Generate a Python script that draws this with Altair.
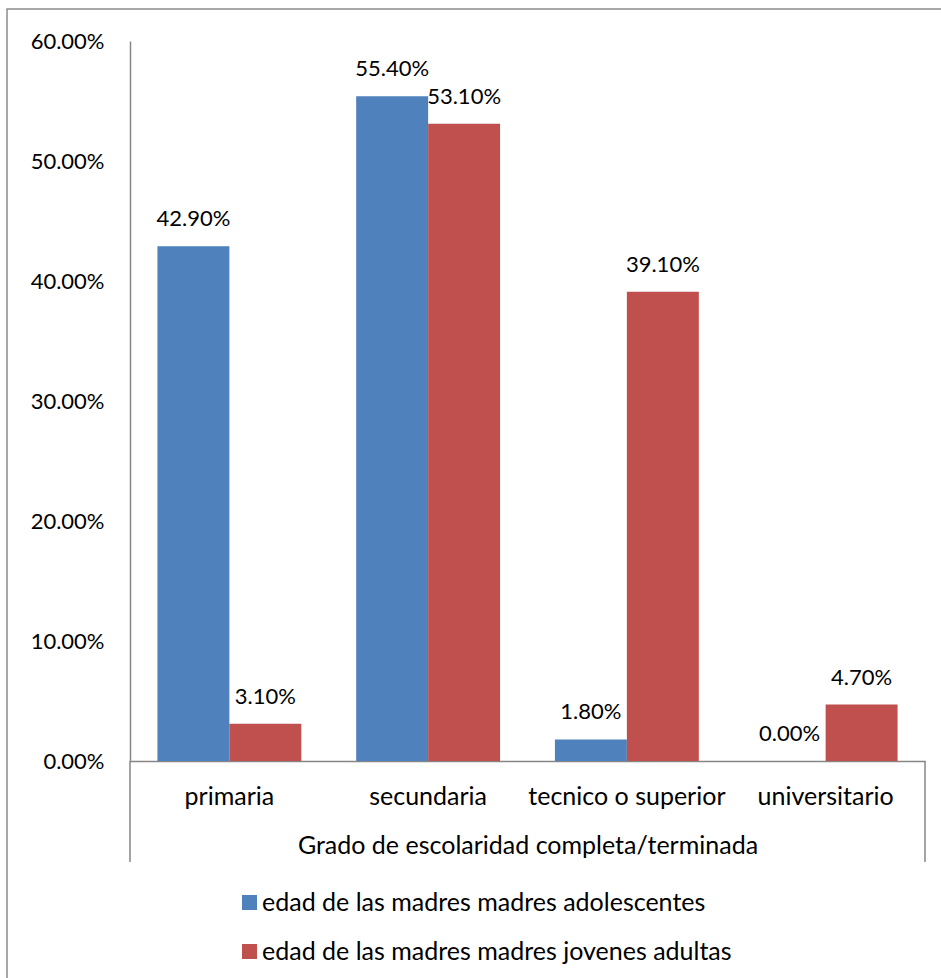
import altair as alt
import pandas as pd

categorias = ["primaria", "secundaria", "tecnico o superior", "universitario"]
series = ["edad de las madres madres adolescentes", "edad de las madres madres jovenes adultas"]
adolescentes = [0.429, 0.554, 0.018, 0.0]
jovenes = [0.031, 0.531, 0.391, 0.047]
colores = ["#4F81BD", "#C0504D"]
y_ticks = [0.0, 0.1, 0.2, 0.3, 0.4, 0.5, 0.6]

rows = []
for c, a, j in zip(categorias, adolescentes, jovenes):
    rows.append({"categoria": c, "serie": series[0], "valor": a})
    rows.append({"categoria": c, "serie": series[1], "valor": j})
df = pd.DataFrame(rows)

FONT = "Lato"
FS_NUM = 22
FS_TXT = 25
W, H = 795, 720
AXIS_GRAY = "#868686"

x_enc = alt.X(
    "categoria:N",
    sort=categorias,
    scale=alt.Scale(paddingInner=0.276, paddingOuter=0.138),
    axis=alt.Axis(
        title="Grado de escolaridad completa/terminada",
        labelAngle=0,
        ticks=False,
        domainColor=AXIS_GRAY,
        domainWidth=1.5,
        labelPadding=23,
        titlePadding=24,
        labelFontSize=FS_TXT,
        titleFontSize=FS_TXT,
        titleFontWeight="normal",
        labelColor="black",
        titleColor="black",
        labelFont=FONT,
        titleFont=FONT,
        labelLimit=0,
        labelOverlap=False,
    ),
)
xo_enc = alt.XOffset("serie:N", sort=series, scale=alt.Scale(paddingInner=0, paddingOuter=0))
y_enc = alt.Y(
    "valor:Q",
    scale=alt.Scale(domain=[0, 0.6], nice=False),
    axis=alt.Axis(
        values=y_ticks,
        format=".2%",
        ticks=False,
        grid=False,
        title=None,
        domainColor=AXIS_GRAY,
        domainWidth=1.5,
        labelPadding=26,
        labelFontSize=FS_NUM,
        labelFont=FONT,
        labelColor="black",
    ),
)

base = alt.Chart(df)

bars = base.mark_bar().encode(
    x=x_enc,
    xOffset=xo_enc,
    y=y_enc,
    color=alt.Color(
        "serie:N",
        sort=series,
        scale=alt.Scale(domain=series, range=colores),
        legend=alt.Legend(
            title=None,
            orient="none",
            legendX=107,
            legendY=849,
            direction="vertical",
            symbolType="square",
            symbolSize=225,
            symbolStrokeWidth=0,
            labelFontSize=FS_TXT,
            labelFont=FONT,
            labelColor="black",
            labelOffset=0,
            rowPadding=23,
            padding=0,
            labelLimit=0,
        ),
    ),
)

labels = base.mark_text(
    baseline="alphabetic", dy=-20, fontSize=FS_NUM, font=FONT, color="black"
).encode(
    x=alt.X("categoria:N", sort=categorias),
    xOffset=alt.XOffset("serie:N", sort=series),
    y=alt.Y("valor:Q"),
    text=alt.Text("valor:Q", format=".2%"),
)

deco = pd.DataFrame({"k": [0]})
border = alt.Chart(deco).mark_rect(fill=None, stroke="#8c8c8c", strokeWidth=1.5).encode(
    x=alt.value(-123), x2=alt.value(W + 40), y=alt.value(-32), y2=alt.value(H + 260)
)
left_ext = alt.Chart(deco).mark_rule(color=AXIS_GRAY, strokeWidth=1.5).encode(
    x=alt.value(0), y=alt.value(H), y2=alt.value(H + 101)
)
right_ext = alt.Chart(deco).mark_rule(color=AXIS_GRAY, strokeWidth=1.5).encode(
    x=alt.value(W), y=alt.value(H), y2=alt.value(H + 101)
)

chart = (
    alt.layer(border, bars, labels, left_ext, right_ext)
    .properties(
        width=W,
        height=H,
        autosize=alt.AutoSizeParams(type="none"),
        padding={"left": 130, "top": 41, "right": 16, "bottom": 217},
        background="white",
    )
    .configure_view(stroke=None)
)

chart.save("out.html", embed_options={"renderer": "svg", "actions": False})
